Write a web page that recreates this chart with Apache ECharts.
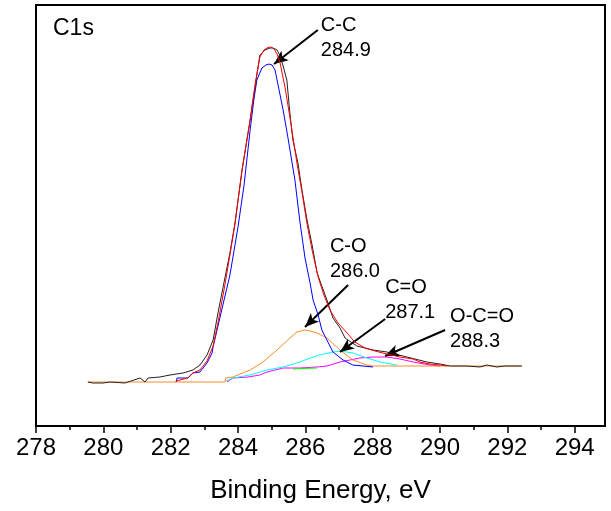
<!DOCTYPE html>
<html><head><meta charset="utf-8">
<script src="https://cdn.jsdelivr.net/npm/echarts@6/dist/echarts.min.js"></script>
<style>html,body{margin:0;padding:0;background:#fff}#c{width:611px;height:511px}</style>
</head><body><div id="c"></div>
<script>
// ---- data (binding energy in eV, intensity in arbitrary units) ----
const rawEV = [279.54,279.69,279.99,280.20,280.64,280.73,281.00,281.09,281.24,281.33,281.68,281.98,282.37,282.66,282.87,283.08,283.26,283.41,283.61,283.76,283.91,284.12,284.36,284.50,284.65,284.80,284.95,285.04,285.16,285.25,285.34,285.45,285.54,285.63,285.78,285.90,286.05,286.20,286.35,286.64,286.82,287.03,287.18,287.53,288.01,288.42,289.02,289.61,290.00,290.30,290.80,291.19,291.39,291.69,291.93,292.17,292.43];
const rawI  = [44,43,43,44,43,44,47,48,44,48,49,51,53,56,61,71,86,114,148,173,203,256,306,338,371,376,378,378,376,370,360,346,313,286,263,236,206,181,153,126,108,98,88,80,76,74,69,64,62,60,60,59,61,59,60,60,60];

const fitEV = [282.16,282.51,282.66,282.87,283.08,283.26,283.41,283.61,283.76,283.91,284.12,284.36,284.50,284.65,284.77,284.89,284.98,285.07,285.16,285.25,285.40,285.54,285.75,285.90,286.05,286.20,286.38,286.55,286.73,286.97,287.24,287.47,287.77,288.07,288.42,288.81,289.20,289.40,289.70,290.00,290.21];
const fitI  = [45,48,53,56,65,80,104,141,171,202,256,306,340,369,376,378.5,379,377,372,363,338,309,263,234,202,176,149,131,116,103,93,84,78,75,72,69,67,64,62,61,60];

const ccEV = [282.16,282.19,282.51,282.66,282.87,283.08,283.23,283.26,283.46,283.76,284.00,284.18,284.36,284.47,284.56,284.71,284.83,284.92,285.01,285.10,285.19,285.34,285.48,285.69,285.84,285.99,286.14,286.23,286.38,286.49,286.64,286.82,287.12,287.41,288.01];
const ccI  = [44,48,48,53,54,63,73,79,108,151,199,241,296,326,346,358,361,362,361,356,341,316,289,246,204,168,143,126,111,96,86,74,66,61,59];

const coEV = [279.54,283.61,283.64,283.85,284.36,284.74,285.16,285.54,285.75,285.99,286.14,286.35,286.64,287.03,287.41,287.83,288.01,292.43];
const coI  = [44,44,48,49,56,64,76,88,94,96,95,93,88,76,66,61,60,60];

const cdoEV = [283.64,283.85,284.36,284.86,285.34,285.84,286.14,286.43,286.82,287.03,287.41,287.83,288.22,288.72];
const cdoI  = [45,48,51,56,59,64,68,71,74,75,73,68,64,61];

const occoEV = [283.67,283.76,283.85,284.30,284.65,284.86,285.34,285.84,286.35,286.64,287.03,287.62,288.01,288.42,288.81,289.20,289.70,290.00];
const occoI  = [44,46,48,49,51,54,58,58,59,60,64,68,69,69,67,64,61,60];

const extraEV = [285.63,285.93,286.35];
const extraI  = [57,57.5,58];

const majorTicks = [278,280,282,284,286,288,290,292,294];
const minorTicks = [279,281,283,285,287,289,291,293];

const annoText  = ['C-C\n284.9','C-O\n286.0','C=O\n287.1','O-C=O\n288.3'];
const annoAt    = [[286.46,413],[286.73,192.5],[288.37,151],[290.30,122.5]];
const arrowFrom = [[286.37,396],[287.27,141],[288.37,107],[290.15,96]];
const arrowTo   = [[285.07,362],[285.99,99],[287.03,74],[288.37,70]];

// ---- chart ----
const FONT = '"Liberation Sans", Arial, sans-serif';
const pair = (xs, ys) => xs.map((x, i) => [x, ys[i]]);
const line = (name, xs, ys, color, z) => ({
  name, type: 'line', data: pair(xs, ys), showSymbol: false, symbol: 'none',
  lineStyle: { color, width: 1 }, z: z || 2, silent: true
});

const chart = echarts.init(document.getElementById('c'), null, { renderer: 'canvas' });
chart.setOption({
  animation: false,
  backgroundColor: '#fff',
  grid: { left: 36, right: 6, top: 5, bottom: 85, show: true, borderColor: '#000', borderWidth: 2, backgroundColor: 'transparent' },
  xAxis: [{
    type: 'value', min: 278, max: 294.9, position: 'bottom',
    name: 'Binding Energy, eV', nameLocation: 'middle', nameGap: 52,
    nameTextStyle: { fontFamily: FONT, fontSize: 26, color: '#000' },
    axisLine: { show: true, lineStyle: { color: '#000', width: 2 } },
    axisTick: { show: true, inside: false, length: 7, customValues: majorTicks, lineStyle: { color: '#000', width: 1.5 } },
    axisLabel: { show: true, customValues: majorTicks, margin: 10, fontFamily: FONT, fontSize: 24, color: '#000' },
    splitLine: { show: false }
  }, {
    type: 'value', min: 278, max: 294.9, position: 'bottom', gridIndex: 0,
    axisLine: { show: false },
    axisTick: { show: true, inside: false, length: 4, customValues: minorTicks, lineStyle: { color: '#000', width: 1.5 } },
    axisLabel: { show: false },
    splitLine: { show: false }
  }],
  yAxis: { type: 'value', min: 0, max: 421, show: false },
  graphic: [{
    type: 'text', left: 53, top: 17,
    style: { text: 'C1s', font: '23px ' + FONT, fill: '#000' }
  }],
  series: [
    line('O-C=O', occoEV, occoI, '#ff00ff', 2),
    line('extra', extraEV, extraI, '#00ff00', 2),
    line('C=O', cdoEV, cdoI, '#00ffff', 3),
    line('C-O', coEV, coI, '#ff8c2a', 4),
    line('C-C', ccEV, ccI, '#0000ff', 5),
    line('raw', rawEV, rawI, '#222222', 6),
    line('fit', fitEV, fitI, '#ff0000', 7),
    {
      name: 'annotations', type: 'scatter', symbolSize: 0, z: 10, silent: true,
      data: annoAt.map((p, i) => ({ value: p, name: annoText[i] })),
      label: {
        show: true, position: [0, 0], align: 'left', verticalAlign: 'top',
        formatter: p => p.name, fontFamily: FONT, fontSize: 20, lineHeight: 25, color: '#000', opacity: 1
      },
      markLine: {
        silent: true, symbol: ['none', 'arrow'], symbolSize: [9, 14],
        lineStyle: { color: '#000', width: 2, type: 'solid' },
        label: { show: false },
        data: arrowFrom.map((f, i) => [{ coord: f }, { coord: arrowTo[i] }])
      }
    }
  ]
});
</script></body></html>
